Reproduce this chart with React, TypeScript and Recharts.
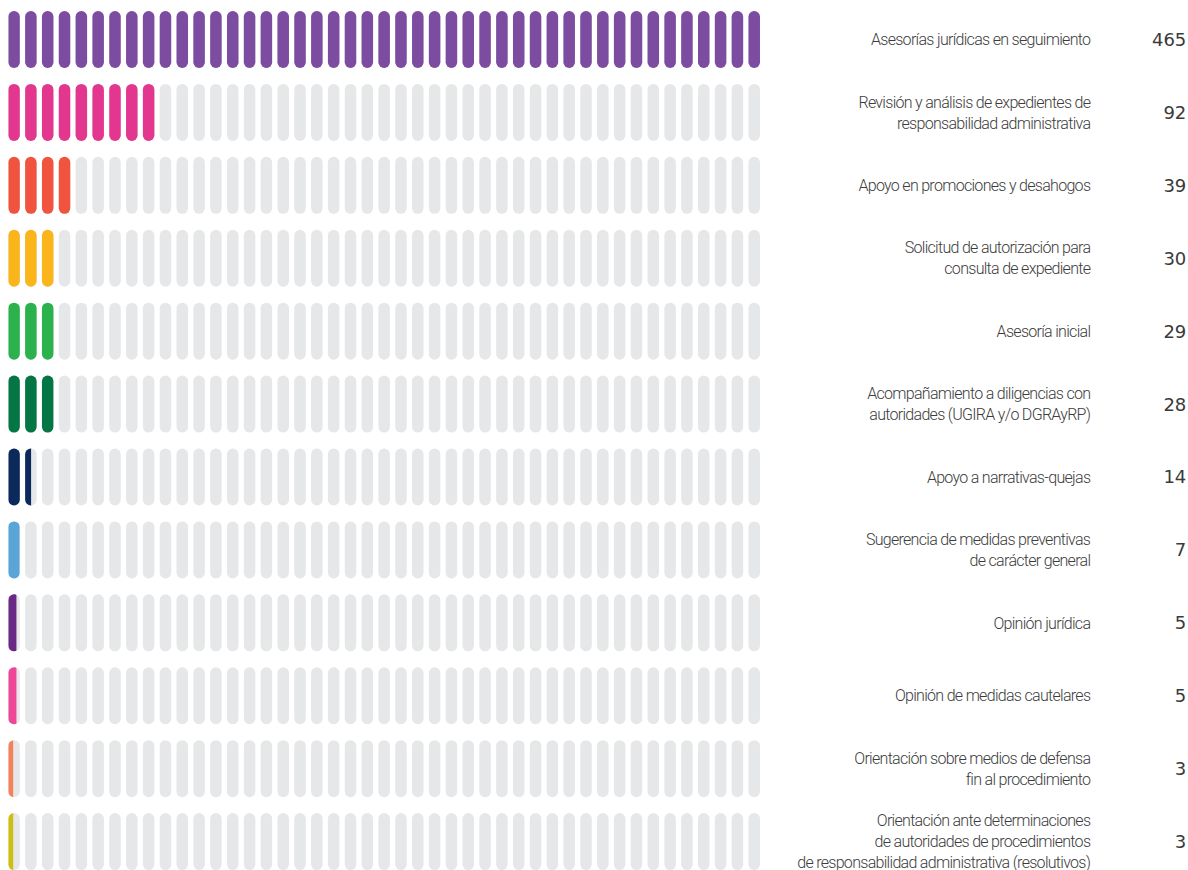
import React from "react"
import { BarChart, Bar, XAxis, YAxis } from "recharts"

// 45 píldoras por fila; el eje va de 0 al máximo
const SLOTS = 45
const MAX = 465

const categories = [
  "Asesorías jurídicas en seguimiento",
  "Revisión y análisis de expedientes de\nresponsabilidad administrativa",
  "Apoyo en promociones y desahogos",
  "Solicitud de autorización para\nconsulta de expediente",
  "Asesoría inicial",
  "Acompañamiento a diligencias con\nautoridades (UGIRA y/o DGRAyRP)",
  "Apoyo a narrativas-quejas",
  "Sugerencia de medidas preventivas\nde carácter general",
  "Opinión jurídica",
  "Opinión de medidas cautelares",
  "Orientación sobre medios de defensa\nfin al procedimiento",
  "Orientación ante determinaciones\nde autoridades de procedimientos\nde responsabilidad administrativa (resolutivos)",
]

const totals = [465, 92, 39, 30, 29, 28, 14, 7, 5, 5, 3, 3]

const colors = [
  "#7b4c9f",
  "#e3378f",
  "#f0543f",
  "#f9b51a",
  "#2bb24c",
  "#047645",
  "#0b2a5b",
  "#5aa5d8",
  "#6a2886",
  "#ee4798",
  "#f58158",
  "#cdbf12",
]

const GREY = "#e6e7e9"
const W = 1188
const H = 878
const PLOT_LEFT = 8.3
const PLOT_W = 757
const AXIS_W = W - PLOT_LEFT - PLOT_W
const PILL_H = 57
const PILL_RATIO = 0.684

const data = categories.map((name, i) => ({ name, total: totals[i], color: colors[i] }))

// cada ranura = píldora + hueco a la derecha
function pills(x0: number, w: number, y: number, h: number, fill: string) {
  const step = w / SLOTS
  const pw = step * PILL_RATIO
  return Array.from({ length: SLOTS }, (_, k) => (
    <rect
      key={k}
      x={x0 + k * step}
      y={y}
      width={pw}
      height={h}
      rx={pw / 2}
      ry={pw / 2}
      fill={fill}
    />
  ))
}

const GreyPills = (props: any) => {
  const { x, y, width, height } = props
  return <g>{pills(x, width, y, height, GREY)}</g>
}

// píldoras de color recortadas al largo de la barra
const FilledPills = (props: any) => {
  const { x, y, width, height, index, payload, background } = props
  const bgX = background?.x ?? x
  const bgW = background?.width ?? PLOT_W
  const id = `fill-clip-${index}`
  return (
    <g>
      <defs>
        <clipPath id={id}>
          <rect x={x} y={y - 1} width={Math.max(width, 0)} height={height + 2} />
        </clipPath>
      </defs>
      <g clipPath={`url(#${id})`}>{pills(bgX, bgW, y, height, payload?.color ?? props.fill)}</g>
    </g>
  )
}

const RowLabel = (props: any) => {
  const { x, y, payload } = props
  const row = data[payload.index] ?? data.find((d) => d.name === payload.value)
  const lines = String(payload.value).split("\n")
  const lh = 21
  const top = y - ((lines.length - 1) * lh) / 2
  return (
    <g>
      <text
        x={x + 325}
        textAnchor="end"
        fill="#3c3c3c"
        fontFamily="Roboto, sans-serif"
        fontWeight={300}
        fontSize={16}
        letterSpacing={-0.7}
      >
        {lines.map((ln, i) => (
          <tspan key={i} x={x + 325} y={top + i * lh} dy="0.36em">
            {ln}
          </tspan>
        ))}
      </text>
      <text
        x={x + 421}
        y={y}
        dy="0.36em"
        textAnchor="end"
        fill="#3a3a3a"
        fontFamily="'DejaVu Sans', sans-serif"
        fontSize={18}
      >
        {row?.total}
      </text>
    </g>
  )
}

export default function App() {
  return (
    <div style={{ position: "absolute", left: 0, top: 0, background: "#ffffff" }}>
      <BarChart
        width={W}
        height={H}
        data={data}
        layout="vertical"
        margin={{ top: 3, right: 0, bottom: 0, left: PLOT_LEFT }}
        barSize={PILL_H}
      >
        <XAxis type="number" domain={[0, MAX]} hide />
        <YAxis
          type="category"
          dataKey="name"
          orientation="right"
          width={AXIS_W}
          axisLine={false}
          tickLine={false}
          tickSize={0}
          tickMargin={0}
          interval={0}
          tick={<RowLabel />}
        />
        <Bar
          dataKey="total"
          isAnimationActive={false}
          background={<GreyPills />}
          shape={<FilledPills />}
        />
      </BarChart>
    </div>
  )
}
